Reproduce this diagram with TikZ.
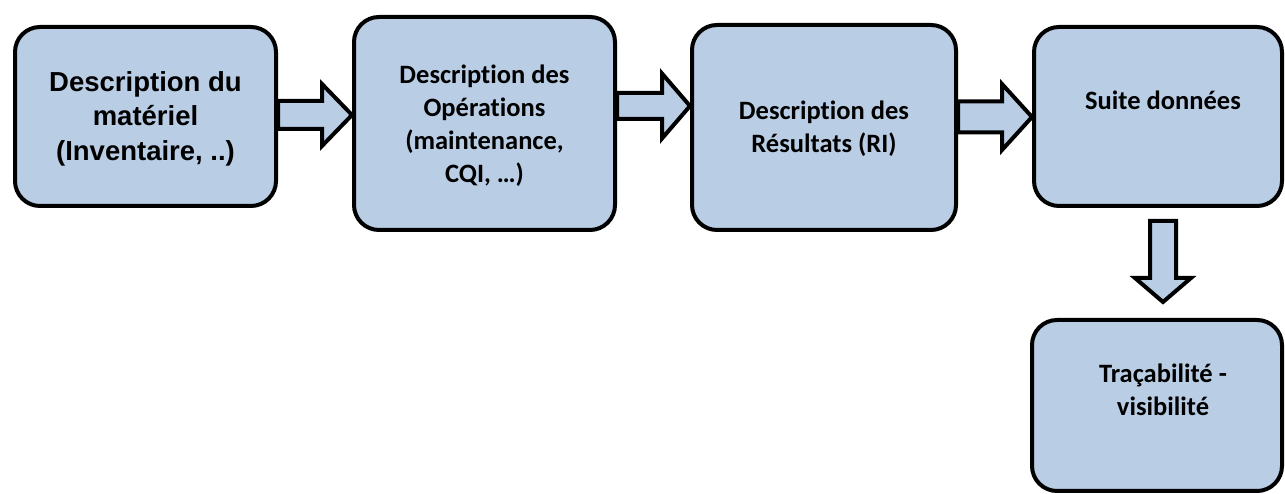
\documentclass[tikz,border=0pt]{standalone}
\usepackage{fontspec}
\newfontfamily\arialfont{Liberation Sans}
\newfontfamily\calibrifont{Carlito}[Ligatures=NoCommon]
\usetikzlibrary{calc}
\definecolor{boxfill}{HTML}{B9CDE5}
\tikzset{
  box/.style={draw=black, line width=4pt, fill=boxfill, rounded corners=25pt,
    inner sep=0pt, align=center, text=black},
  arialtxt/.style={font=\arialfont\bfseries\fontsize{27.5}{34.5}\selectfont},
  caltxt/.style={font=\calibrifont\bfseries\fontsize{26.5}{33}\selectfont},
  barrow/.style={draw=black, line width=4pt, fill=boxfill, line join=miter},
}
\newcommand\harrow[6]{%
  \coordinate (#1s) at (#1.east |- 0,#3);
  \coordinate (#1t) at (#2.west |- 0,#3);
  \draw[barrow] ([yshift=#4]#1s) -- ([xshift=-#6,yshift=#4]#1t)
    -- ([xshift=-#6,yshift=#5]#1t) -- (#1t)
    -- ([xshift=-#6,yshift=-#5]#1t) -- ([xshift=-#6,yshift=-#4]#1t)
    -- ([yshift=-#4]#1s) -- cycle;}
\begin{document}
\begin{tikzpicture}[x=1pt,y=1pt]
\useasboundingbox (0,0) rectangle (1285,494);
\path
  node[box, minimum width=261pt, minimum height=179pt,
       label={[arialtxt, align=center, yshift=-2pt]center:Description du\\matériel\\(Inventaire, ..)}] (b1) at (145.5,377.5) {}
  node[box, minimum width=261pt, minimum height=213pt,
       label={[caltxt, align=center, yshift=-2pt]center:Description des\\Opérations\\(maintenance,\\CQI, …)}] (b2) at (484.5,370.5) {}
  node[box, minimum width=264pt, minimum height=205pt,
       label={[caltxt, align=center, yshift=-1pt]center:Description des\\Résultats (RI)}] (b3) at (824,366.5) {}
  node[box, minimum width=248pt, minimum height=179pt,
       label={[caltxt, xshift=5pt, yshift=16.5pt]center:Suite données}] (b4) at (1158,377.5) {}
  node[box, minimum width=250pt, minimum height=171pt,
       label={[caltxt, align=center, xshift=6pt, yshift=15.5pt]center:Traçabilité -\\visibilité}] (b5) at (1157,88.5) {};
% horizontal block arrows
\harrow{b1}{b2}{379}{14}{31}{30}
\harrow{b2}{b3}{388}{13}{32.5}{28}
\harrow{b3}{b4}{377}{15.5}{33}{30}
% vertical block arrow
\coordinate (d0) at (b4.south -| 1163,0);
\coordinate (d1) at (b5.north -| 1163,0);
\draw[barrow] ([xshift=-13pt,yshift=-13pt]d0) -- ([xshift=-13pt,yshift=40pt]d1)
  -- ([xshift=-28pt,yshift=40pt]d1) -- ([yshift=16pt]d1)
  -- ([xshift=28pt,yshift=40pt]d1) -- ([xshift=13pt,yshift=40pt]d1)
  -- ([xshift=13pt,yshift=-13pt]d0) -- cycle;
\end{tikzpicture}
\end{document}
